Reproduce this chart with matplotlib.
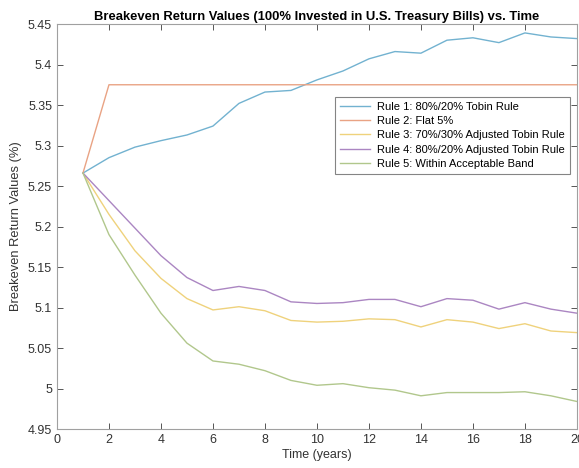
import numpy as np
import matplotlib.pyplot as plt

plt.rcParams['font.family'] = ['Liberation Sans', 'DejaVu Sans']

# years 1..20
years = np.arange(1, 21)

# breakeven values (%)
rule1 = [5.266, 5.285, 5.298, 5.306, 5.313, 5.324, 5.352, 5.366, 5.368, 5.381,
         5.392, 5.407, 5.416, 5.414, 5.430, 5.433, 5.427, 5.439, 5.434, 5.432]
rule2 = [5.266] + [5.375] * 19
rule3 = [5.266, 5.215, 5.170, 5.136, 5.111, 5.097, 5.101, 5.096, 5.084, 5.082,
         5.083, 5.086, 5.085, 5.076, 5.085, 5.082, 5.074, 5.080, 5.071, 5.069]
rule4 = [5.266, 5.232, 5.198, 5.164, 5.137, 5.121, 5.126, 5.121, 5.107, 5.105,
         5.106, 5.110, 5.110, 5.101, 5.111, 5.109, 5.098, 5.106, 5.098, 5.093]
rule5 = [5.266, 5.190, 5.140, 5.093, 5.056, 5.034, 5.030, 5.022, 5.010, 5.004,
         5.006, 5.001, 4.998, 4.991, 4.995, 4.995, 4.995, 4.996, 4.991, 4.984]

labels = ['Rule 1: 80%/20% Tobin Rule', 'Rule 2: Flat 5%',
          'Rule 3: 70%/30% Adjusted Tobin Rule', 'Rule 4: 80%/20% Adjusted Tobin Rule',
          'Rule 5: Within Acceptable Band']
colors = ['#72b2d0', '#e9a384', '#efd27c', '#ab86c2', '#b1c78c']

fig = plt.figure(figsize=(5.79, 4.68), dpi=100)
ax = fig.add_axes([0.0984, 0.0833, 0.898, 0.8654])

for vals, lab, c in zip([rule1, rule2, rule3, rule4, rule5], labels, colors):
    ax.plot(years, vals, color=c, linewidth=1.0, label=lab)

ax.set_xlim(0, 20)
ax.set_ylim(4.95, 5.45)
ax.set_xticks(np.arange(0, 21, 2))
ax.set_yticks(np.arange(4.95, 5.451, 0.05))
ax.set_yticklabels(['4.95', '5', '5.05', '5.1', '5.15', '5.2', '5.25', '5.3', '5.35', '5.4', '5.45'])

ax.tick_params(direction='in', top=True, right=True, length=4, width=0.7,
               colors='#555555', labelcolor='#333333', labelsize=9)
for s in ax.spines.values():
    s.set_color('#a0a0a0')
    s.set_linewidth(0.8)

ax.set_title('Breakeven Return Values (100% Invested in U.S. Treasury Bills) vs. Time',
             fontsize=9.4, fontweight='bold', pad=3)
ax.set_xlabel('Time (years)', fontsize=9, color='#333333', labelpad=2)
ax.set_ylabel('Breakeven Return Values (%)', fontsize=9.3, color='#333333', labelpad=4)

leg = ax.legend(loc='upper right', bbox_to_anchor=(0.9865, 0.82), borderaxespad=0,
                fontsize=8, frameon=True, fancybox=False, edgecolor='#666666',
                handlelength=2.7, handletextpad=0.6, borderpad=0.45, labelspacing=0.38)
leg.get_frame().set_linewidth(0.8)

fig.savefig('out.png', dpi=100)
